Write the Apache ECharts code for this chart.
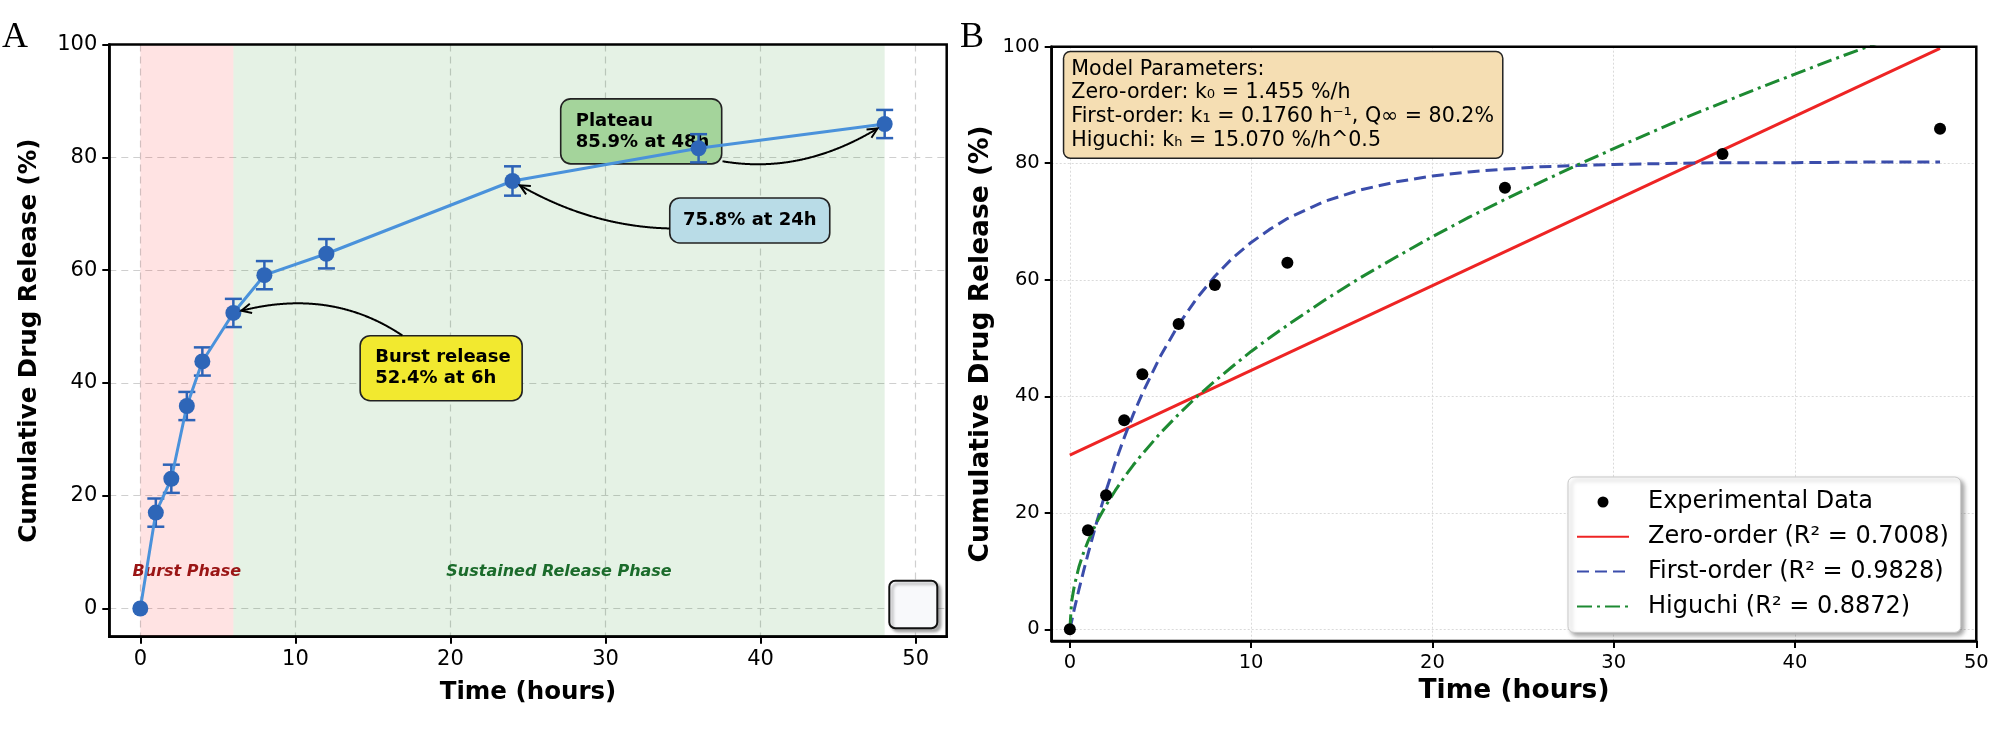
<!DOCTYPE html>
<html>
<head>
<meta charset="utf-8">
<script src="https://cdn.jsdelivr.net/npm/echarts@6/dist/echarts.min.js"></script>
<style>
html,body{margin:0;padding:0;background:#fff;}
#chart{width:2008px;height:729px;}
</style>
</head>
<body>
<div id="chart"></div>
<script>
// measured release profile (panel A and B)
var timeH = [0, 1, 2, 3, 4, 6, 8, 12, 24, 36, 48];
var release = [0, 17.0, 23.0, 35.9, 43.8, 52.4, 59.1, 62.9, 75.8, 81.6, 85.9];
var releaseErr = [0, 2.5, 2.5, 2.5, 2.5, 2.5, 2.5, 2.6, 2.6, 2.5, 2.5];
var burstPhase = [0, 6];
var sustainedPhase = [6, 48];
var xTicks = [0, 10, 20, 30, 40, 50];
var yTicks = [0, 20, 40, 60, 80, 100];

// fitted model curves
var zeroT = [0, 48];
var zeroQ = [29.9, 99.7];
var firstT = [0, 0.25, 0.5, 0.75, 1, 1.5, 2, 2.5, 3, 3.5, 4, 5, 6, 7, 8, 9, 10, 11, 12, 14, 16, 18, 20, 22, 24, 26, 28, 30, 32, 36, 40, 44, 48];
var firstQ = [0, 3.5, 6.8, 9.9, 12.9, 18.6, 23.8, 28.6, 32.9, 36.9, 40.5, 46.9, 52.3, 56.8, 60.6, 63.8, 66.4, 68.6, 70.5, 73.4, 75.4, 76.8, 77.8, 78.5, 79.0, 79.4, 79.6, 79.8, 79.9, 80.1, 80.1, 80.2, 80.2];
var higT = [0, 0.1, 0.25, 0.5, 0.75, 1, 1.5, 2, 2.5, 3, 3.5, 4, 5, 6, 7, 8, 9, 10, 11, 12, 14, 16, 18, 20, 22, 24, 26, 28, 30, 32, 34, 36, 38, 40, 42, 44, 46, 48];
var higQ = [0, 4.8, 7.5, 10.7, 13.1, 15.1, 18.5, 21.3, 23.8, 26.1, 28.2, 30.1, 33.7, 36.9, 39.9, 42.6, 45.2, 47.7, 50.0, 52.2, 56.4, 60.3, 63.9, 67.4, 70.7, 73.8, 76.8, 79.7, 82.5, 85.2, 87.9, 90.4, 92.9, 95.3, 97.7, 100.0, 102.2, 104.4];

var legendNames = ['Experimental Data', 'Zero-order (R\u00b2 = 0.7008)', 'First-order (R\u00b2 = 0.9828)', 'Higuchi (R\u00b2 = 0.8872)'];
var paramLines = ['Model Parameters:',
  'Zero-order: k\u2080 = 1.455 %/h',
  'First-order: k\u2081 = 0.1760 h\u207b\u00b9, Q\u221e = 80.2%',
  'Higuchi: k\u2095 = 15.070 %/h^0.5'];

// annotation texts with anchor (data coords) and the point they point at
var noteText = ['Burst release\n52.4% at 6h', '75.8% at 24h', 'Plateau\n85.9% at 48h'];
var noteAt = [[19.4, 42.6], [39.3, 68.8], [32.3, 84.6]];
var noteTarget = [[6, 52.4], [24, 75.8], [48, 85.9]];

function zip(a, b) { return a.map(function (v, i) { return [v, b[i]]; }); }

var FONT = 'DejaVu Sans';
var chart = echarts.init(document.getElementById('chart'));

function xAxisCfg(g, min, max, fs, nfs, gap, split) {
  return {
    gridIndex: g, type: 'value', min: min, max: max,
    axisLine: {show: true, onZero: false, lineStyle: {color: '#000', width: 2.5}},
    axisTick: {show: true, length: 7, customValues: xTicks, lineStyle: {color: '#000', width: 2}},
    axisLabel: {customValues: xTicks, fontSize: fs, color: '#000', margin: 12, fontFamily: FONT},
    splitLine: {show: true, lineStyle: split},
    name: 'Time (hours)', nameLocation: 'middle', nameGap: gap,
    nameTextStyle: {fontSize: nfs, fontWeight: 'bold', color: '#000', fontFamily: FONT}
  };
}
function yAxisCfg(g, min, max, fs, nfs, gap, split) {
  return {
    gridIndex: g, type: 'value', min: min, max: max,
    axisLine: {show: true, onZero: false, lineStyle: {color: '#000', width: 2.5}},
    axisTick: {show: true, length: 7, customValues: yTicks, lineStyle: {color: '#000', width: 2}},
    axisLabel: {customValues: yTicks, fontSize: fs, color: '#000', margin: 12, fontFamily: FONT},
    splitLine: {show: true, lineStyle: split},
    name: 'Cumulative Drug Release (%)', nameLocation: 'middle', nameGap: gap,
    nameTextStyle: {fontSize: nfs, fontWeight: 'bold', color: '#000', fontFamily: FONT}
  };
}

var dashA = {type: [7, 5], color: '#cfcfcf', width: 1.2};
var dotB = {type: [2, 2], color: '#dadada', width: 1};

var option = {
  animation: false,
  backgroundColor: '#fff',
  textStyle: {fontFamily: FONT},
  grid: [
    {left: 109.3, right: 1061.3, top: 44.5, bottom: 92.3},
    {left: 1051.7, right: 31.7, top: 46.7, bottom: 88}
  ],
  xAxis: [
    xAxisCfg(0, -2, 52, 21, 24.5, 43, dashA),
    xAxisCfg(1, -1, 50, 19.5, 26.5, 35, dotB)
  ],
  yAxis: [
    yAxisCfg(0, -5, 100, 21, 24.5, 67, dashA),
    yAxisCfg(1, -2, 100, 19.5, 26.5, 57, dotB)
  ],
  legend: {
    data: [
      {name: legendNames[0]},
      {name: legendNames[1], itemStyle: {opacity: 0}},
      {name: legendNames[2], itemStyle: {opacity: 0}},
      {name: legendNames[3], itemStyle: {opacity: 0}}
    ],
    orient: 'vertical',
    left: 1568, top: 477,
    itemWidth: 52, itemHeight: 11, itemGap: 10.8,
    padding: [13, 12, 14, 8],
    backgroundColor: '#fff',
    borderColor: '#c8c8c8', borderWidth: 1, borderRadius: 6,
    shadowBlur: 4, shadowOffsetX: 3, shadowOffsetY: 3, shadowColor: 'rgba(0,0,0,0.35)',
    formatter: function (n) { return '{t|' + n + '}'; },
    textStyle: {rich: {t: {fontSize: 24, color: '#000', fontFamily: FONT, lineHeight: 26, padding: [0, 0, 0, 14]}}}
  },
  series: [
    // phase shading (panel A)
    {
      type: 'line', name: 'phases', xAxisIndex: 0, yAxisIndex: 0, z: 1, silent: true,
      data: [[0, 0]], symbol: 'none', lineStyle: {width: 0},
      markArea: {
        silent: true,
        data: [
          [{xAxis: burstPhase[0], itemStyle: {color: 'rgba(255,0,0,0.11)'}}, {xAxis: burstPhase[1]}],
          [{xAxis: sustainedPhase[0], itemStyle: {color: 'rgba(0,128,0,0.1)'}}, {xAxis: sustainedPhase[1]}]
        ]
      }
    },
    // error bars (panel A)
    {
      type: 'custom', name: 'err', xAxisIndex: 0, yAxisIndex: 0, z: 4, silent: true,
      encode: {x: 0, y: [1, 2]},
      data: timeH.map(function (t, i) { return [t, release[i] - releaseErr[i], release[i] + releaseErr[i]]; }),
      renderItem: function (params, api) {
        if (api.value(1) === api.value(2)) return null;
        var lo = api.coord([api.value(0), api.value(1)]);
        var hi = api.coord([api.value(0), api.value(2)]);
        var w = 8.5;
        var st = {stroke: '#2d63b7', lineWidth: 2.5, fill: null};
        return {type: 'group', children: [
          {type: 'line', shape: {x1: lo[0], y1: lo[1], x2: hi[0], y2: hi[1]}, style: st},
          {type: 'line', shape: {x1: lo[0] - w, y1: lo[1], x2: lo[0] + w, y2: lo[1]}, style: st},
          {type: 'line', shape: {x1: hi[0] - w, y1: hi[1], x2: hi[0] + w, y2: hi[1]}, style: st}
        ]};
      }
    },
    {
      type: 'line', name: 'Release', xAxisIndex: 0, yAxisIndex: 0, z: 4,
      data: zip(timeH, release),
      lineStyle: {color: '#4a92db', width: 3},
      symbol: 'circle', symbolSize: 16, showSymbol: true,
      itemStyle: {color: '#2e66b8'}
    },
    // panel B
    {
      type: 'line', name: legendNames[1], xAxisIndex: 1, yAxisIndex: 1, z: 3,
      data: zip(zeroT, zeroQ), symbol: 'none',
      lineStyle: {color: '#ee2424', width: 3}, itemStyle: {color: '#ee2424'}
    },
    {
      type: 'line', name: legendNames[2], xAxisIndex: 1, yAxisIndex: 1, z: 3,
      data: zip(firstT, firstQ), symbol: 'none',
      lineStyle: {color: '#3b4dab', width: 3, type: [12, 6]}, itemStyle: {color: '#3b4dab'}
    },
    {
      type: 'line', name: legendNames[3], xAxisIndex: 1, yAxisIndex: 1, z: 3,
      data: zip(higT, higQ), symbol: 'none',
      lineStyle: {color: '#1d8a32', width: 3, type: [15, 5, 3, 5]}, itemStyle: {color: '#1d8a32'}
    },
    {
      type: 'scatter', name: legendNames[0], xAxisIndex: 1, yAxisIndex: 1, z: 5,
      data: zip(timeH, release), symbol: 'circle', symbolSize: 12,
      itemStyle: {color: '#000', opacity: 1}
    }
  ]
};
chart.setOption(option);

// annotations placed through the axes' own scales
function px(p) { return chart.convertToPixel({gridIndex: 0}, p); }
function pxB(p) { return chart.convertToPixel({gridIndex: 1}, p); }

var boxStyle = [
  {w: 162, h: 65, fill: '#f2e92f', rad: 0.3, center: false},
  {w: 160, h: 45, fill: '#b9dce7', rad: -0.2, center: true},
  {w: 161, h: 65, fill: '#a4d49b', rad: 0.3, center: false}
];

function curvePoints(s, e, rad, box, shrink) {
  var cx = (s[0] + e[0]) / 2 - rad * (e[1] - s[1]);
  var cy = (s[1] + e[1]) / 2 + rad * (e[0] - s[0]);
  var out = [];
  for (var i = 0; i <= 300; i++) {
    var t = i / 300;
    var x = (1 - t) * (1 - t) * s[0] + 2 * t * (1 - t) * cx + t * t * e[0];
    var y = (1 - t) * (1 - t) * s[1] + 2 * t * (1 - t) * cy + t * t * e[1];
    var inBox = x > box.x && x < box.x + box.w && y > box.y && y < box.y + box.h;
    var near = Math.sqrt((x - e[0]) * (x - e[0]) + (y - e[1]) * (y - e[1])) < shrink;
    if (!inBox && !near) out.push([x, y]);
  }
  return out;
}

var graphics = [];
noteText.forEach(function (txt, i) {
  var c = px(noteAt[i]);
  var tg = px(noteTarget[i]);
  var bs = boxStyle[i];
  var box = {x: c[0] - bs.w / 2, y: c[1] - bs.h / 2, w: bs.w, h: bs.h};
  graphics.push({
    type: 'rect', z: 3, shape: {x: box.x, y: box.y, width: box.w, height: box.h, r: 10},
    style: {fill: bs.fill, stroke: '#222', lineWidth: 1.6}
  });
  graphics.push({
    type: 'text', z: 3,
    x: bs.center ? c[0] : box.x + 15, y: c[1],
    style: {text: txt, font: 'bold 18px "DejaVu Sans"', fill: '#000',
      align: bs.center ? 'center' : 'left', verticalAlign: 'middle', lineHeight: 21}
  });
  var pts = curvePoints(c, tg, bs.rad, box, 8);
  graphics.push({type: 'polyline', z: 6, shape: {points: pts}, style: {stroke: '#000', lineWidth: 2, fill: null}});
  var tip = pts[pts.length - 1], prev = pts[pts.length - 5];
  var ang = Math.atan2(tip[1] - prev[1], tip[0] - prev[0]);
  var L = 11, W = 0.45;
  graphics.push({type: 'polyline', z: 6, shape: {points: [
    [tip[0] - L * Math.cos(ang - W), tip[1] - L * Math.sin(ang - W)], tip,
    [tip[0] - L * Math.cos(ang + W), tip[1] - L * Math.sin(ang + W)]
  ]}, style: {stroke: '#000', lineWidth: 2, fill: null}});
});

// phase labels
var pb = px([3, 6.5]), ps = px([27, 6.5]);
graphics.push({type: 'text', z: 3, x: pb[0], y: pb[1], style: {text: 'Burst Phase', font: 'italic bold 16px "DejaVu Sans"', fill: '#9a1515', align: 'center', verticalAlign: 'middle'}});
graphics.push({type: 'text', z: 3, x: ps[0], y: ps[1], style: {text: 'Sustained Release Phase', font: 'italic bold 16px "DejaVu Sans"', fill: '#1b6b2b', align: 'center', verticalAlign: 'middle'}});

// plot frames drawn on top
[[px([-2, 100]), px([52, -5])], [pxB([-1, 100]), pxB([50, -2])]].forEach(function (r) {
  graphics.push({type: 'rect', z: 10, silent: true,
    shape: {x: r[0][0], y: r[0][1], width: r[1][0] - r[0][0], height: r[1][1] - r[0][1]},
    style: {fill: null, stroke: '#000', lineWidth: 2.5}});
});

// empty legend frame in panel A corner
var corner = px([52, -5]);
graphics.push({
  type: 'rect', z: 5, shape: {x: corner[0] - 57.4, y: corner[1] - 56, width: 48, height: 47.6, r: 6},
  style: {fill: '#f8f9fb', stroke: '#111', lineWidth: 2, shadowBlur: 3, shadowOffsetX: 3, shadowOffsetY: 3, shadowColor: 'rgba(0,0,0,0.3)'}
});

// model parameters box (panel B)
graphics.push({
  type: 'text', z: 6, x: 1064.3, y: 52.3,
  style: {text: paramLines.join('\n'), font: '20.6px "DejaVu Sans"', fill: '#000', lineHeight: 23.8,
    backgroundColor: '#f5deb3', borderColor: '#222', borderWidth: 1.5, borderRadius: 6, padding: [5, 8, 5, 7]}
});

// panel letters
graphics.push({type: 'text', z: 6, x: 2, y: 20, style: {text: 'A', font: '36px "Liberation Serif"', fill: '#000'}});
graphics.push({type: 'text', z: 6, x: 960, y: 20, style: {text: 'B', font: '36px "Liberation Serif"', fill: '#000'}});

chart.setOption({graphic: graphics});
</script>
</body>
</html>
